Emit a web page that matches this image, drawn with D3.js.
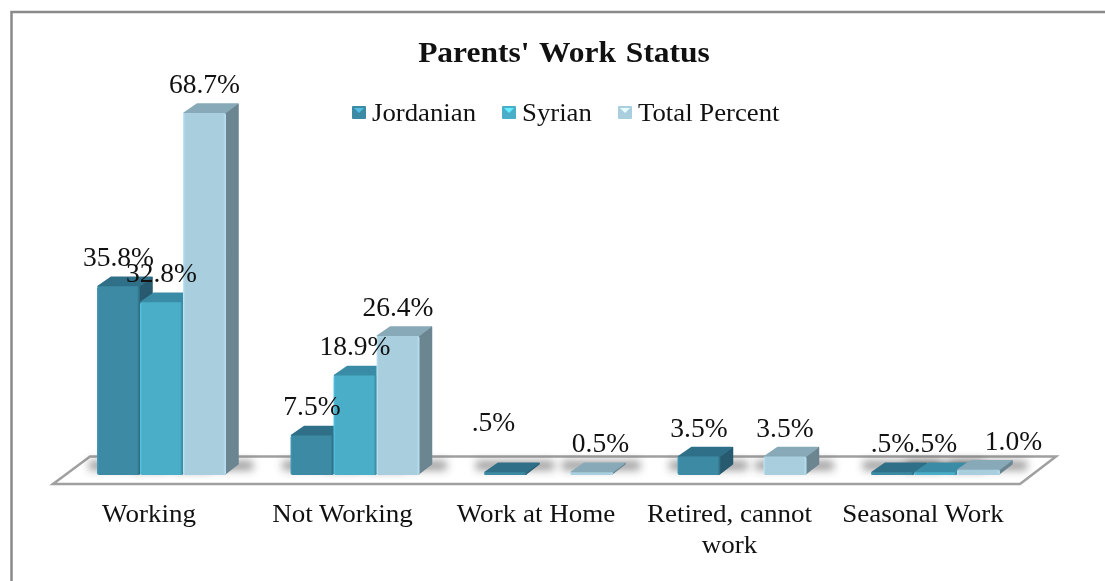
<!DOCTYPE html>
<html>
<head>
<meta charset="utf-8">
<script src="https://cdn.jsdelivr.net/npm/d3@7/dist/d3.min.js"></script>
<style>
html,body{margin:0;padding:0;background:#fff;overflow:hidden;}
svg{display:block;filter:blur(0.4px);}
text{font-family:"Liberation Serif","Times New Roman",serif;fill:#111;}
</style>
</head>
<body>
<div id="chart"></div>
<script>
// values
var categories = ["Working","Not Working","Work at Home","Retired, cannot work","Seasonal Work"];
var seriesNames = ["Jordanian","Syrian","Total Percent"];
var jordanian = [35.8,7.5,0.5,3.5,0.5];
var syrian = [32.8,18.9,null,null,0.5];
var totalPercent = [68.7,26.4,0.5,3.5,1.0];
var seriesValues = [jordanian,syrian,totalPercent];
var valueLabels = [
    ["35.8%","7.5%",".5%","3.5%",".5%"],
    ["32.8%","18.9%","","",".5%"],
    ["68.7%","26.4%","0.5%","3.5%","1.0%"]
];

var width = 1105, height = 581;
var baseY = 475;
var depthX = 13, depthY = 10;
var frontColor = ["#3c8aa4","#4aaec9","#a9cede"];
var topColor = ["#2f7088","#3a8ca6","#88a9b8"];
var sideColor = ["#275a6e","#2f7086","#6b8591"];

var svg = d3.select("#chart").append("svg")
            .attr("width",width)
            .attr("height",height);

var defs = svg.append("defs");
defs.append("filter").attr("id","soft")
    .attr("filterUnits","userSpaceOnUse")
    .attr("x",0).attr("y",430).attr("width",width).attr("height",70)
    .append("feGaussianBlur").attr("stdDeviation",4);

frontColor.forEach(function(c,i){
    var grad = defs.append("linearGradient").attr("id","front"+i);
    grad.append("stop").attr("offset","0%").attr("stop-color",d3.color(c).brighter(0.35));
    grad.append("stop").attr("offset","5%").attr("stop-color",c);
    grad.append("stop").attr("offset","93%").attr("stop-color",c);
    grad.append("stop").attr("offset","100%")
        .attr("stop-color",i == 2 ? d3.color(c).brighter(0.25) : d3.color(c).darker(0.8));
});

var x = d3.scaleBand().domain(categories).range([97,1000]).paddingInner(1/3).paddingOuter(0);
var xSeries = d3.scaleBand().domain(seriesNames).range([0,x.bandwidth()]);
var y = d3.scaleLinear().domain([0,68.7]).range([baseY,113]);

// frame, open at the right and the bottom
svg.append("path")
    .attr("d","M11.5,581V12H1105")
    .attr("fill","none")
    .attr("stroke","#8a8a8a")
    .attr("stroke-width",2.5);

// floor
svg.append("polygon")
    .attr("points","53,484 90,456.5 1056,456.5 1020,484")
    .attr("fill","#fff")
    .attr("stroke","#a0a0a0")
    .attr("stroke-width",2.5);

function wideText(sel,size,stretch){
    return sel.attr("font-size",size)
              .attr("text-anchor","middle")
              .attr("transform",function(){
                  var p = d3.select(this);
                  return "translate("+p.attr("data-x")+","+p.attr("data-y")+") scale("+stretch+",1)";
              });
}

svg.append("text")
    .attr("data-x",564).attr("data-y",62)
    .attr("font-weight","bold")
    .attr("word-spacing",2)
    .text("Parents' Work Status")
    .call(wideText,30,1.05);

var marks = svg.append("g");

categories.forEach(function(c,ci){
    var g = marks.append("g").attr("class","group");
    // shadows go first so no bar is covered by its neighbour's
    seriesValues.forEach(function(values,si){
        if(values[ci] === null) return;
        var x0 = x(c) + xSeries(seriesNames[si]);
        g.append("rect")
            .attr("x",x0-8).attr("y",baseY-14)
            .attr("width",xSeries.bandwidth()+depthX+22).attr("height",9)
            .attr("fill","#333")
            .attr("opacity",0.5)
            .attr("filter","url(#soft)");
    });
    seriesValues.forEach(function(values,si){
        var v = values[ci];
        if(v === null) return;
        var w = xSeries.bandwidth();
        var x0 = x(c) + xSeries(seriesNames[si]), x1 = x0 + w, top = y(v);
        g.append("polygon")
            .attr("points",[[x1-1,baseY-1],[x1+depthX-1,baseY-depthY-1],[x1+depthX-1,top-depthY+1],[x1-1,top]].join(" "))
            .attr("fill",sideColor[si])
            .attr("stroke",sideColor[si])
            .attr("stroke-linejoin","round")
            .attr("stroke-width",1.5);
        g.append("polygon")
            .attr("points",[[x0+1,top],[x0+depthX+1,top-depthY+1],[x1+depthX-2,top-depthY+1],[x1-1,top]].join(" "))
            .attr("fill",topColor[si])
            .attr("stroke",topColor[si])
            .attr("stroke-linejoin","round")
            .attr("stroke-width",1.5);
        g.append("rect")
            .attr("x",x0).attr("y",top)
            .attr("width",w).attr("height",baseY-top)
            .attr("rx",Math.min(2,(baseY-top)/2))
            .attr("fill","url(#front"+si+")");
    });
});

var legend = svg.append("g");
var legendX = [352,502,618];
seriesNames.forEach(function(name,i){
    legend.append("rect")
        .attr("x",legendX[i]).attr("y",106)
        .attr("width",14).attr("height",13)
        .attr("rx",1)
        .attr("fill",frontColor[i]);
    legend.append("polygon")
        .attr("points",[[legendX[i]+2,108],[legendX[i]+12,108],[legendX[i]+7,113]].join(" "))
        .attr("fill",d3.color(frontColor[i]).brighter(0.9));
    legend.append("text")
        .attr("font-size",26)
        .attr("transform","translate("+(legendX[i]+20)+",121) scale(1.03,1)")
        .text(name);
});

// most labels sit over their bar; these three were pushed aside in the original
var labelNudge = {"2-0":[-12,0],"2-2":[9,0],"4-2":[35,0]};
categories.forEach(function(c,ci){
    valueLabels.forEach(function(row,si){
        if(!row[ci]) return;
        var nudge = labelNudge[ci+"-"+si] || [0,0];
        var lift = row[ci] == ".5%" && ci == 2 ? 41 : 20;
        svg.append("text")
            .attr("data-x",x(c)+xSeries(seriesNames[si])+xSeries.bandwidth()/2+nudge[0])
            .attr("data-y",y(seriesValues[si][ci])-lift)
            .text(row[ci])
            .call(wideText,27,1.02);
    });
});

categories.forEach(function(c){
    var lines = c === "Retired, cannot work" ? ["Retired, cannot","work"] : [c];
    lines.forEach(function(t,i){
        svg.append("text")
            .attr("data-x",x(c)+x.bandwidth()/2-12.5)
            .attr("data-y",522+i*31)
            .text(t)
            .call(wideText,26,1.04);
    });
});
</script>
</body>
</html>
